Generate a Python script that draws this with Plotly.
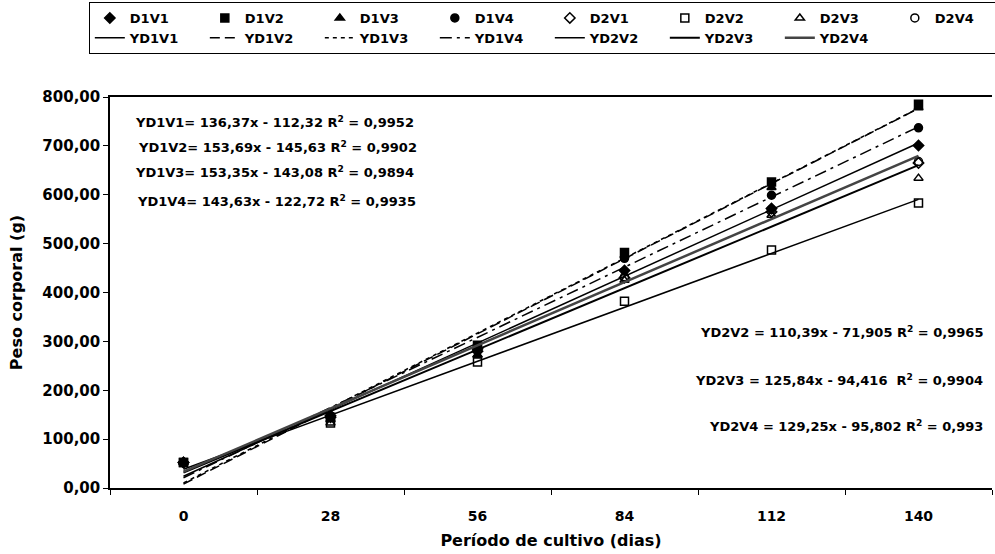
import plotly.graph_objects as go

# Datos del gráfico:
dias = [0, 28, 56, 84, 112, 140]
etiquetas_x = ['0', '28', '56', '84', '112', '140']

series = ['D1V1', 'D1V2', 'D1V3', 'D1V4', 'D2V1', 'D2V2', 'D2V3', 'D2V4']
d1v1 = [52, 148, 285, 445, 572, 701]
d1v2 = [52, 145, 292, 482, 626, 785]
d1v3 = [52, 140, 272, 476, 615, 778]
d1v4 = [52, 148, 290, 470, 599, 737]
d2v1 = [52, 145, 280, 430, 565, 665]
d2v2 = [52, 133, 258, 382, 487, 583]
d2v3 = [52, 133, 272, 425, 558, 634]
d2v4 = [52, 145, 282, 432, 570, 668]

# Líneas de tendencia (x = 1..6, como en Excel):
tendencias = ['YD1V1', 'YD1V2', 'YD1V3', 'YD1V4', 'YD2V2', 'YD2V3', 'YD2V4']
pendientes = [136.37, 153.69, 153.35, 143.63, 110.39, 125.84, 129.25]
interceptos = [-112.32, -145.63, -143.08, -122.72, -71.905, -94.416, -95.802]

ecuaciones_izq = [
    'YD1V1= 136,37x - 112,32 R<sup>2</sup> = 0,9952',
    'YD1V2= 153,69x - 145,63 R<sup>2</sup> = 0,9902',
    'YD1V3= 153,35x - 143,08 R<sup>2</sup> = 0,9894',
    'YD1V4= 143,63x - 122,72 R<sup>2</sup> = 0,9935',
]
ecuaciones_der = [
    'YD2V2 = 110,39x - 71,905 R<sup>2</sup> = 0,9965',
    'YD2V3 = 125,84x - 94,416 &nbsp;R<sup>2</sup> = 0,9904',
    'YD2V4 = 129,25x - 95,802 R<sup>2</sup> = 0,993',
]


FUENTE = 'DejaVu Sans'
valores = [d1v1, d1v2, d1v3, d1v4, d2v1, d2v2, d2v3, d2v4]
simbolos = ['diamond', 'square', 'triangle-up', 'circle',
            'diamond-open', 'square-open', 'triangle-up-open', 'circle-open']
estilos = [
    dict(dash='solid', width=1.5, color='black'),
    dict(dash='10px,5px', width=1.5, color='black'),
    dict(dash='4px,4px', width=1.5, color='black'),
    dict(dash='12px,5px,3px,5px', width=1.5, color='black'),
    dict(dash='solid', width=1.5, color='black'),
    dict(dash='solid', width=2, color='black'),
    dict(dash='solid', width=2.5, color='#444444'),
]

fig = go.Figure()

# 1. Puntos observados:
for nombre, y, simbolo in zip(series, valores, simbolos):
    fig.add_trace(go.Scatter(
        x=dias, y=y, name=nombre, mode='markers',
        marker=dict(symbol=simbolo, size=8, color='black',
                    line=dict(color='black', width=1.5))
    ))

# 2. Tendencias lineales:
for nombre, a, b, estilo in zip(tendencias, pendientes, interceptos, estilos):
    y = [a * (i + 1) + b for i in range(len(dias))]
    fig.add_trace(go.Scatter(x=dias, y=y, name=nombre, mode='lines', line=estilo))

# Ecuaciones como anotaciones:
anotaciones = []
for texto, xp, yv in zip(ecuaciones_izq, [0.026, 0.030, 0.026, 0.028], [749, 698, 647, 587]):
    anotaciones.append(dict(text=texto, x=xp, y=yv, xref='paper', yref='y',
                            xanchor='left', showarrow=False))
for texto, yv in zip(ecuaciones_der, [319, 221, 127]):
    anotaciones.append(dict(text=texto, x=0.992, y=yv, xref='paper', yref='y',
                            xanchor='right', showarrow=False))

fig.update_layout(
    width=995, height=554,
    margin=dict(l=110, r=3, t=97, b=66, autoexpand=False),
    paper_bgcolor='white', plot_bgcolor='white',
    separators=',.',
    font=dict(family=FUENTE, size=13, color='black', weight='bold'),
    annotations=anotaciones,
    legend=dict(
        orientation='h', x=-0.024, xanchor='left', y=1.243, yanchor='top',
        entrywidth=70, bordercolor='black', borderwidth=1,
        font=dict(size=13), traceorder='normal', tracegroupgap=0
    ),
)

fig.update_xaxes(
    range=[-14, 154], tickvals=dias, ticktext=etiquetas_x, ticks='',
    ticklabelstandoff=14, tickfont=dict(size=14),
    minor=dict(ticks='outside', tick0=14, dtick=28, ticklen=5, tickcolor='black'),
    showline=True, linecolor='black', linewidth=1.5, mirror=True,
    showgrid=False, zeroline=False,
    title=dict(text='Período de cultivo (dias)', standoff=12, font=dict(size=16))
)
fig.update_yaxes(
    range=[0, 800], dtick=100, tickformat='.2f', ticks='outside', ticklen=5,
    tickcolor='black', tickfont=dict(size=15),
    showline=True, linecolor='black', linewidth=1.5,
    showgrid=False, zeroline=False,
    title=dict(text='Peso corporal (g)', standoff=16, font=dict(size=16))
)

# Quitar el margen por defecto de la página y la barra de herramientas:
fig.write_html(
    'out.html',
    config={'displayModeBar': False},
    post_script="document.body.style.margin='0';document.body.style.overflow='hidden';"
)
